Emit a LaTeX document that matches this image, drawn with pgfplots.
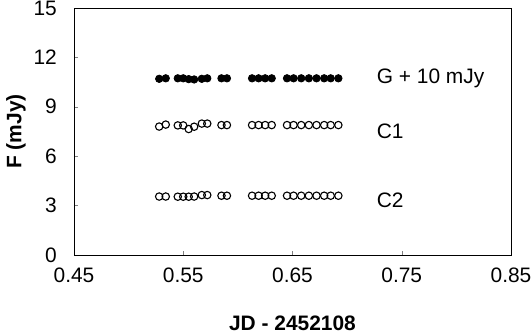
\documentclass[border=0pt]{standalone}
\usepackage{fontspec}
\setmainfont{Liberation Sans}
\usepackage{pgfplots}
\pgfplotsset{compat=1.18}
\begin{document}
\fontsize{21}{25}\selectfont
\begin{tikzpicture}[x=1bp,y=1bp]
\begin{axis}[
  scale only axis,
  width=437bp, height=247bp,
  xmin=0.45, xmax=0.85, ymin=0, ymax=15,
  xtick={0.45,0.55,0.65,0.75,0.85},
  ytick={0,3,6,9,12,15},
  xtick pos=bottom, ytick pos=left,
  tick align=inside,
  major tick length=4bp,
  /pgf/number format/assume math mode=true,
  xticklabel style={/pgf/number format/fixed,/pgf/number format/fixed zerofill,/pgf/number format/precision=2, anchor=center, inner sep=0pt, yshift=-20bp},
  yticklabel style={/pgf/number format/fixed, anchor=east, inner sep=0pt, xshift=-17bp},
  ticklabel style={font=\fontsize{21}{25}\selectfont},
  xlabel={\textbf{JD - 2452108}},
  ylabel={\textbf{F (mJy)}},
  xlabel style={at={(axis description cs:0.5,-0.2753)}, anchor=center, inner sep=0pt},
  ylabel style={at={(axis description cs:-0.1327,0.5)}, anchor=center, inner sep=0pt},
  label style={font=\fontsize{21}{25}\selectfont},
  axis line style={line width=0.8bp},
  clip=false,
]
\path[draw=none] (axis description cs:-0.1693,-0.3239) rectangle (axis description cs:1.0481,1.0324);
\addplot[only marks, mark=*, mark size=3.7bp, mark options={fill=black, draw=black, line width=0.8bp}] coordinates {
(0.528,10.70) (0.534,10.73) (0.545,10.73) (0.550,10.73) (0.555,10.68) (0.560,10.66) (0.567,10.70) (0.572,10.73)
(0.585,10.73) (0.590,10.73) (0.613,10.73) (0.619,10.73) (0.625,10.73) (0.631,10.73)
(0.645,10.73) (0.651,10.73) (0.658,10.73) (0.665,10.73) (0.672,10.73) (0.679,10.73) (0.685,10.73) (0.692,10.73)
};
\addplot[only marks, mark=o, mark size=3.7bp, mark options={draw=black, line width=1.1bp}] coordinates {
(0.528,7.80) (0.534,7.92) (0.545,7.87) (0.550,7.87) (0.555,7.65) (0.560,7.79) (0.567,7.98) (0.572,7.98)
(0.585,7.89) (0.590,7.89) (0.613,7.89) (0.619,7.89) (0.625,7.89) (0.631,7.89)
(0.645,7.89) (0.651,7.89) (0.658,7.89) (0.665,7.89) (0.672,7.89) (0.679,7.89) (0.685,7.89) (0.692,7.89)
};
\addplot[only marks, mark=o, mark size=3.7bp, mark options={draw=black, line width=1.1bp}] coordinates {
(0.528,3.55) (0.534,3.55) (0.545,3.54) (0.550,3.54) (0.555,3.54) (0.560,3.55) (0.567,3.64) (0.572,3.64)
(0.585,3.60) (0.590,3.60) (0.613,3.60) (0.619,3.60) (0.625,3.60) (0.631,3.60)
(0.645,3.60) (0.651,3.60) (0.658,3.60) (0.665,3.60) (0.672,3.60) (0.679,3.60) (0.685,3.60) (0.692,3.60)
};
\node[anchor=west, inner sep=0pt, font=\fontsize{21}{25}\selectfont] at (axis cs:0.727,10.75) {G + 10 mJy};
\node[anchor=west, inner sep=0pt, font=\fontsize{21}{25}\selectfont] at (axis cs:0.727,7.53) {C1};
\node[anchor=west, inner sep=0pt, font=\fontsize{21}{25}\selectfont] at (axis cs:0.727,3.34) {C2};
\end{axis}
\end{tikzpicture}
\end{document}
